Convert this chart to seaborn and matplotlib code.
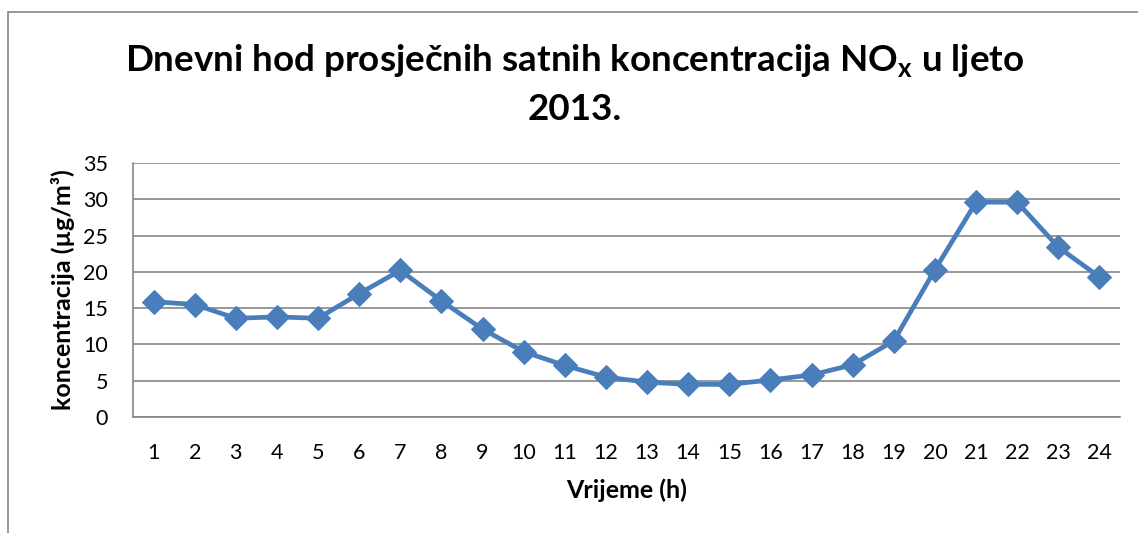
import matplotlib
matplotlib.use("Agg")
import matplotlib.pyplot as plt
import seaborn as sns
import pandas as pd
from matplotlib.patches import Rectangle

# data
hours = list(range(1, 25))
nox = [15.9, 15.5, 13.6, 13.8, 13.6, 17.0, 20.2, 16.0, 12.1, 9.0, 7.1, 5.5,
       4.8, 4.5, 4.5, 5.1, 5.8, 7.2, 10.5, 20.3, 29.6, 29.6, 23.4, 19.3]
yticks = [0, 5, 10, 15, 20, 25, 30, 35]

df = pd.DataFrame({"sat": hours, "konc": nox})

sns.set_style("white")
plt.rcParams["font.family"] = ["Lato", "DejaVu Sans"]
plt.rcParams["mathtext.fontset"] = "custom"
plt.rcParams["mathtext.bf"] = "Lato:bold"
plt.rcParams["mathtext.rm"] = "Lato"
plt.rcParams["text.color"] = "black"
plt.rcParams["axes.labelcolor"] = "black"
plt.rcParams["xtick.labelcolor"] = "black"
plt.rcParams["ytick.labelcolor"] = "black"

fig = plt.figure(figsize=(11.38, 5.33), dpi=100)
ax = fig.add_axes([0.1169, 0.2176, 0.8673, 0.4766])

grey = "#868686"
blue = "#4A7EBB"

sns.lineplot(data=df, x="sat", y="konc", ax=ax, color=blue, linewidth=3.4,
             marker="D", markersize=12.5, markeredgecolor=blue)

ax.set_xlim(0.5, 24.5)
ax.set_ylim(0, 35)
ax.set_yticks(yticks)
ax.set_xticks(hours)
ax.set_xticks([h - 0.5 for h in hours] + [24.5], minor=True)
ax.tick_params(axis="x", which="major", length=0, labelsize=15.5, pad=19)
ax.tick_params(axis="x", which="minor", length=7, color=grey, width=1.2)
ax.tick_params(axis="y", length=6, color=grey, width=1.2, labelsize=15.5, pad=12)
ax.tick_params(axis="both", direction="out")
ax.yaxis.grid(True, color=grey, linewidth=1.2)
ax.set_axisbelow(True)
for s in ["top", "right"]:
    ax.spines[s].set_visible(False)
for s in ["left", "bottom"]:
    ax.spines[s].set_color(grey)
    ax.spines[s].set_linewidth(1.2)

ax.set_xlabel("Vrijeme (h)", fontsize=18, fontweight="bold", labelpad=11)
ax.set_ylabel("koncentracija (µg/m³)", fontsize=18, fontweight="bold", labelpad=6)

fig.text(0.505, 0.885, r"Dnevni hod prosječnih satnih koncentracija NO$_{\mathbf{x}}$ u ljeto",
         ha="center", va="center", fontsize=26.5, fontweight="bold")
fig.text(0.505, 0.795, "2013.", ha="center", va="center", fontsize=26.5, fontweight="bold")

# chart area border (cropped at right and bottom)
fig.patches.append(Rectangle((8 / 1138, -0.1), 1.2, 1.1 - 12 / 533, transform=fig.transFigure,
                             fill=False, edgecolor=grey, linewidth=1.2))

fig.savefig("out.png", dpi=100)
